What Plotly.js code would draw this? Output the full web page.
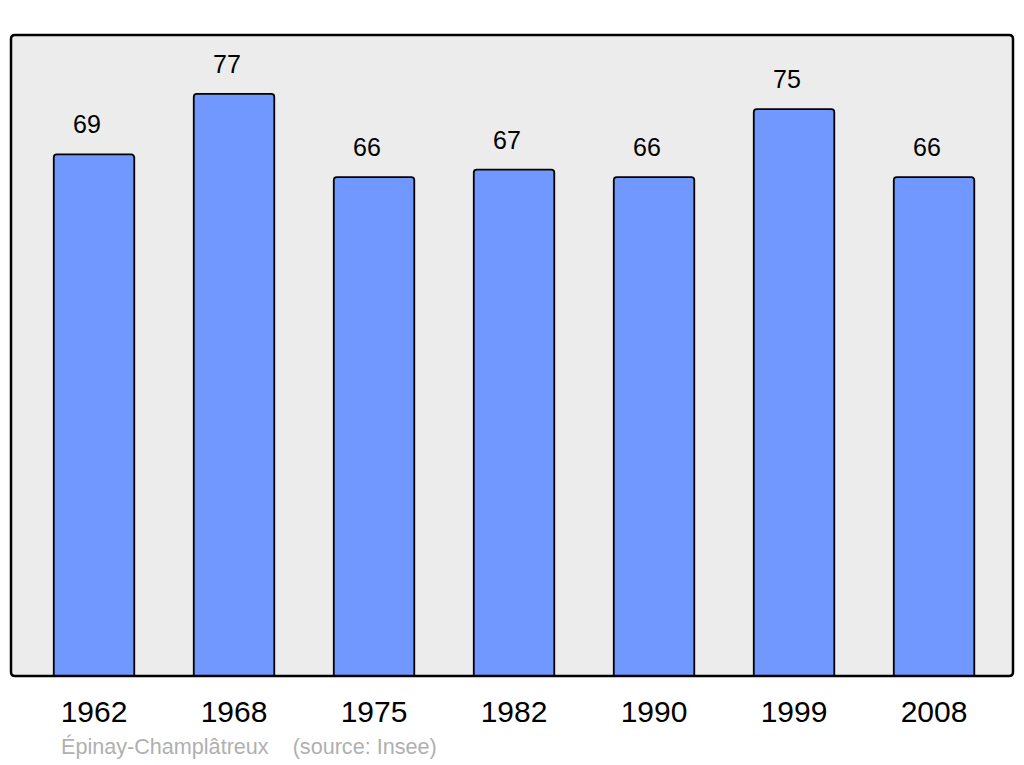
<!DOCTYPE html>
<html><head><meta charset="utf-8">
<script src="https://cdn.plot.ly/plotly-3.0.1.min.js"></script>
<style>html,body{margin:0;padding:0;background:#fff}#chart{width:1024px;height:765px}</style>
</head><body><div id="chart"></div>
<script>
const years = ['1962','1968','1975','1982','1990','1999','2008'];
const population = [69, 77, 66, 67, 66, 75, 66];
const caption = 'Épinay-Champlâtreux\u00a0\u00a0\u00a0\u00a0(source: Insee)';

const W = 1024, H = 765;
const m = {l: 11, r: 11, t: 35, b: 89};
const pw = W - m.l - m.r, ph = H - m.t - m.b;
const rx = 4 / pw, ry = 4 / ph;
const framePath = `M ${rx} 0 L ${1-rx} 0 Q 1 0 1 ${ry} L 1 ${1-ry} Q 1 1 ${1-rx} 1 L ${rx} 1 Q 0 1 0 ${1-ry} L 0 ${ry} Q 0 0 ${rx} 0 Z`;

const trace = {
  type: 'bar', x: years, y: population,
  width: 0.575,
  marker: {color: '#7098ff', line: {color: '#000', width: 1.8}, cornerradius: 3},
  hoverinfo: 'none'
};

const annotations = years.map((yr, i) => ({
  x: i, y: population[i], xref: 'x', yref: 'y',
  text: String(population[i]), showarrow: false,
  yshift: 30, xshift: -7, yanchor: 'middle',
  font: {family: 'Liberation Sans, Arial, sans-serif', size: 25, color: '#000'}
}));
annotations.push({
  x: (59 - m.l) / pw, y: -(746 - (H - m.b)) / ph, xref: 'paper', yref: 'paper',
  xanchor: 'left', yanchor: 'middle', showarrow: false, text: caption,
  font: {family: 'Liberation Sans, Arial, sans-serif', size: 21.6, color: '#b0b0b0'}
});

const layout = {
  width: W, height: H, margin: m,
  paper_bgcolor: '#fff', plot_bgcolor: '#ececec',
  showlegend: false,
  xaxis: {type: 'category', range: [-0.593, 6.564], showgrid: false, zeroline: false,
    showline: false, ticks: '', ticklabelstandoff: 15,
    tickfont: {family: 'Liberation Sans, Arial, sans-serif', size: 30, color: '#000'}},
  yaxis: {range: [0, 84.8], showgrid: false, zeroline: false, showticklabels: false, ticks: ''},
  shapes: [{type: 'path', xref: 'paper', yref: 'paper', path: framePath,
    line: {color: '#000', width: 2.5}, fillcolor: 'rgba(0,0,0,0)', layer: 'above'}],
  annotations: annotations
};
Plotly.newPlot('chart', [trace], layout, {staticPlot: true, displayModeBar: false});
</script></body></html>
